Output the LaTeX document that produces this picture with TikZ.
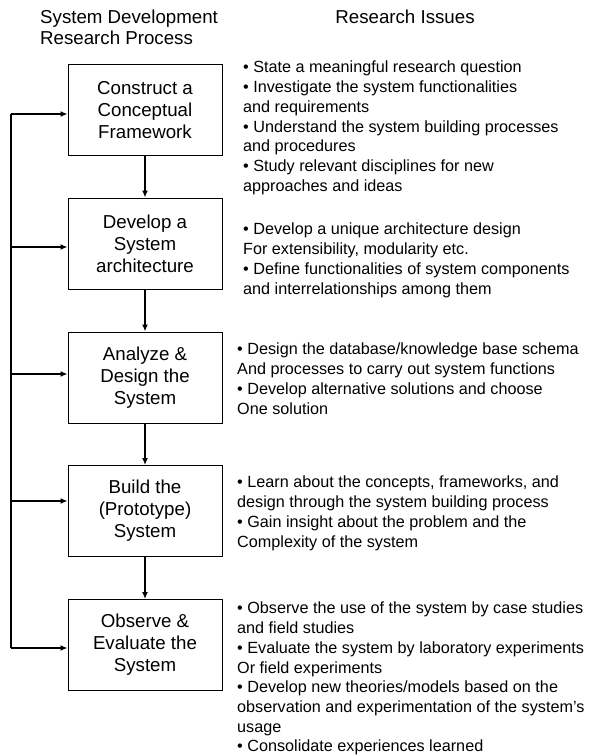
\documentclass[tikz,border=0pt]{standalone}
\usepackage{fontspec}
\setmainfont{Liberation Sans}
\usetikzlibrary{arrows.meta}

\begin{document}
\begin{tikzpicture}[x=1pt, y=-1pt,
  box/.style={draw, line width=1pt, minimum width=154pt, minimum height=91pt,
    align=center, inner sep=0pt, font=\fontsize{18.7}{22}\selectfont},
  issues/.style={anchor=north west, align=left, inner sep=0pt,
    font=\fontsize{16.2}{19.7}\selectfont},
  head/.style={inner sep=0pt, font=\fontsize{18.7}{21}\selectfont},
  flow/.style={line width=1.5pt, -{Latex[length=7pt,width=6pt]}}]
  \useasboundingbox (0,0) rectangle (592,755);

  % column heads
  \node[head, anchor=north west, align=left] (hproc) at (40,10) {System Development\\Research Process};
  \node[head, anchor=north] (hiss) at (405,10) {Research Issues};

  % process steps
  \node[box] (frame)  at (145,110)   {Construct a\\Conceptual\\Framework};
  \node[box] (arch)   at (145,243.5) {Develop a\\System\\architecture};
  \node[box] (design) at (145,377.5) {Analyze \&\\Design the\\System};
  \node[box] (build)  at (145,511)   {Build the\\(Prototype)\\System};
  \node[box] (eval)   at (145,645)   {Observe \&\\Evaluate the\\System};

  % research issues
  \node[issues] (iss1) at (243,61) {• State a meaningful research question\\
    • Investigate the system functionalities\\and requirements\\
    • Understand the system building processes\\and procedures\\
    • Study relevant disciplines for new\\approaches and ideas};
  \node[issues] (iss2) at (243,223) {• Develop a unique architecture design\\
    For extensibility, modularity etc.\\
    • Define functionalities of system components\\and interrelationships among them};
  \node[issues] (iss3) at (237,343) {• Design the database/knowledge base schema\\
    And processes to carry out system functions\\
    • Develop alternative solutions and choose\\One solution};
  \node[issues] (iss4) at (237,476) {• Learn about the concepts, frameworks, and\\
    design through the system building process\\
    • Gain insight about the problem and the\\Complexity of the system};
  \node[issues] (iss5) at (237,602) {• Observe the use of the system by case studies\\
    and field studies\\
    • Evaluate the system by laboratory experiments\\Or field experiments\\
    • Develop new theories/models based on the\\
    observation and experimentation of the system’s\\usage\\
    • Consolidate experiences learned};

  % forward flow
  \draw[flow] (frame) -- (arch);
  \draw[flow] (arch) -- (design);
  \draw[flow] (design) -- (build);
  \draw[flow] (build) -- (eval);

  % feedback loop
  \coordinate (l1) at (11,114);
  \coordinate (l2) at (11,247);
  \coordinate (l3) at (11,374);
  \coordinate (l4) at (11,501);
  \coordinate (l5) at (11,648);
  \draw[line width=1.2pt] (l1) -- (l5);
  \foreach \c/\b in {l1/frame, l2/arch, l3/design, l4/build, l5/eval}
    \draw[flow] (\c) -- (\c -| \b.west);
\end{tikzpicture}
\end{document}
